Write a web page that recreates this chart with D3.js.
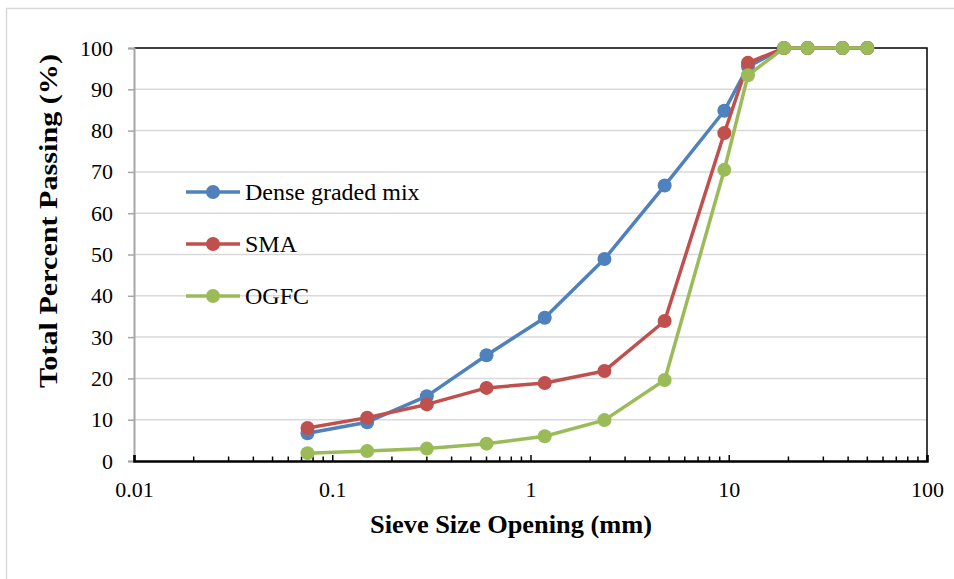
<!DOCTYPE html>
<html>
<head>
<meta charset="utf-8">
<script src="https://cdn.jsdelivr.net/npm/d3@7"></script>
<style>
    body { margin: 0; background: #fff; }
    svg { display: block; font-family: "Liberation Serif", "Times New Roman", serif; }
    svg text { font-family: "Liberation Serif", "Times New Roman", serif; }
</style>
</head>
<body>
<div id="chart"></div>
<script>
// sieve sizes (mm)
var sieves = [0.075, 0.15, 0.3, 0.6, 1.18, 2.36, 4.75, 9.5, 12.5, 19, 25, 37.5, 50];

// percent passing per mix
var dense = [6.7, 9.4, 15.7, 25.6, 34.7, 48.9, 66.7, 84.8, 95.5, 100, 100, 100, 100];
var sma   = [8.0, 10.5, 13.7, 17.7, 18.9, 21.8, 33.9, 79.4, 96.4, 100, 100, 100, 100];
var ogfc  = [1.9, 2.4, 3.0, 4.2, 6.0, 9.9, 19.6, 70.5, 93.4, 100, 100, 100, 100];

var seriesNames = ["Dense graded mix", "SMA", "OGFC"];
var seriesColors = ["#4f81bd", "#c0504d", "#9bbb59"];

var xTicks = [0.01, 0.1, 1, 10, 100];
var yTicks = [0, 10, 20, 30, 40, 50, 60, 70, 80, 90, 100];

var W = 954, H = 579;
var plot = { left: 134, top: 48, right: 927, bottom: 461 };

var svg = d3.select("#chart").append("svg")
    .attr("width", W)
    .attr("height", H);

// chart area border (only top/left visible)
svg.append("rect")
    .attr("x", 6.5).attr("y", 8.5)
    .attr("width", 980).attr("height", 600)
    .attr("fill", "none")
    .attr("stroke", "#d9d9d9")
    .attr("stroke-width", 1.5);

var x = d3.scaleLog().domain([0.01, 100]).range([plot.left, plot.right]);
var y = d3.scaleLinear().domain([0, 100]).range([plot.bottom, plot.top]);

// gridlines
svg.append("g").selectAll("line")
    .data(yTicks.filter(function(d) { return d > 0 && d < 100; }))
    .enter().append("line")
    .attr("x1", plot.left).attr("x2", plot.right)
    .attr("y1", function(d) { return y(d); })
    .attr("y2", function(d) { return y(d); })
    .attr("stroke", "#d9d9d9")
    .attr("stroke-width", 1.5);

// plot border top/right
svg.append("path")
    .attr("d", "M" + plot.left + "," + plot.top + "H" + plot.right + "V" + plot.bottom)
    .attr("fill", "none")
    .attr("stroke", "#000")
    .attr("stroke-width", 1.5);

// y axis
var yAxis = d3.axisLeft(y).tickValues(yTicks).tickSize(6).tickPadding(15);
var gy = svg.append("g")
    .attr("transform", "translate(" + plot.left + ",0)")
    .call(yAxis);
gy.attr("font-family", null);
gy.select(".domain").attr("stroke", "#a6a6a6").attr("stroke-width", 2);
gy.selectAll(".tick line").attr("stroke", "#a6a6a6").attr("stroke-width", 1.5);
gy.selectAll(".tick text")
    .style("font-size", "22px")
    .attr("fill", "#000");

// x axis minor ticks (inside)
var minor = [];
for (var e = -2; e < 2; e++) {
    for (var k = 2; k <= 9; k++) minor.push(k * Math.pow(10, e));
}
svg.append("g").selectAll("line")
    .data(minor)
    .enter().append("line")
    .attr("x1", function(d) { return x(d); })
    .attr("x2", function(d) { return x(d); })
    .attr("y1", plot.bottom)
    .attr("y2", plot.bottom - 4.5)
    .attr("stroke", "#000")
    .attr("stroke-width", 1.5);

var xAxis = d3.axisBottom(x).tickValues(xTicks).tickSize(-6).tickPadding(20)
    .tickFormat(function(d) { return String(d); });
var gx = svg.append("g")
    .attr("transform", "translate(0," + plot.bottom + ")")
    .call(xAxis);
gx.attr("font-family", null);
gx.select(".domain").attr("stroke", "#000").attr("stroke-width", 2.5);
gx.selectAll(".tick line").attr("stroke", "#000").attr("stroke-width", 1.5);
gx.selectAll(".tick text")
    .style("font-size", "22px")
    .attr("fill", "#000");

// series
var series = [dense, sma, ogfc].map(function(vals, i) {
    return {
        name: seriesNames[i],
        color: seriesColors[i],
        points: sieves.map(function(s, j) { return { x: s, y: vals[j] }; })
    };
});

var line = d3.line()
    .x(function(d) { return x(d.x); })
    .y(function(d) { return y(d.y); });

var gs = svg.append("g").selectAll("g")
    .data(series)
    .enter().append("g");

gs.append("path")
    .attr("d", function(d) { return line(d.points); })
    .attr("fill", "none")
    .attr("stroke", function(d) { return d.color; })
    .attr("stroke-width", 3.5)
    .attr("stroke-linejoin", "round");

gs.selectAll("circle")
    .data(function(d) { return d.points.map(function(p) { return { p: p, c: d.color }; }); })
    .enter().append("circle")
    .attr("cx", function(d) { return x(d.p.x); })
    .attr("cy", function(d) { return y(d.p.y); })
    .attr("r", 7)
    .attr("fill", function(d) { return d.c; });

// legend
var legend = svg.append("g").selectAll("g")
    .data(series)
    .enter().append("g")
    .attr("transform", function(d, i) { return "translate(186," + (192 + i * 52) + ")"; });

legend.append("line")
    .attr("x1", 0).attr("x2", 54)
    .attr("stroke", function(d) { return d.color; })
    .attr("stroke-width", 3.5);

legend.append("circle")
    .attr("cx", 27)
    .attr("r", 7)
    .attr("fill", function(d) { return d.color; });

legend.append("text")
    .attr("x", 59)
    .attr("y", 8)
    .style("font-size", "24px")
    .text(function(d) { return d.name; });

// axis titles
svg.append("text")
    .attr("x", 511)
    .attr("y", 533)
    .attr("text-anchor", "middle")
    .attr("textLength", 282)
    .attr("lengthAdjust", "spacingAndGlyphs")
    .style("font-size", "25px")
    .style("font-weight", "bold")
    .text("Sieve Size Opening (mm)");

svg.append("text")
    .attr("transform", "translate(57,221) rotate(-90)")
    .attr("text-anchor", "middle")
    .attr("textLength", 334)
    .attr("lengthAdjust", "spacingAndGlyphs")
    .style("font-size", "25px")
    .style("font-weight", "bold")
    .text("Total Percent Passing (%)");
</script>
</body>
</html>
